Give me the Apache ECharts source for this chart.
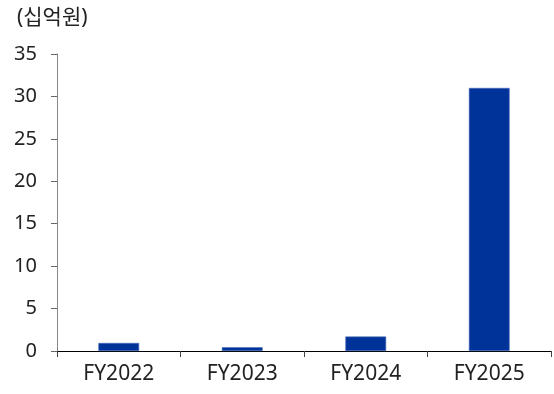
<!DOCTYPE html>
<html>
<head>
<meta charset="utf-8">
<script src="https://cdn.jsdelivr.net/npm/echarts@6/dist/echarts.min.js"></script>
<style>
  html, body { margin: 0; padding: 0; background: #fff; }
  #chart { width: 554px; height: 394px; }
</style>
</head>
<body>
<div id="chart"></div>
<script>
// Fiscal years and annual amounts (KRW, billions)
const categories = ['FY2022', 'FY2023', 'FY2024', 'FY2025'];
const values = [0.95, 0.45, 1.7, 31.0];
const unitLabel = '(십억원)';

const font = "'Noto Sans', 'Noto Sans CJK KR', sans-serif";

const chart = echarts.init(document.getElementById('chart'));
chart.setOption({
  animation: false,
  title: {
    text: unitLabel,
    left: 12,
    top: 3,
    textStyle: { fontFamily: font, fontSize: 21, fontWeight: 'normal', color: '#222' }
  },
  grid: { left: 57, right: 3, top: 54, bottom: 43, containLabel: false },
  xAxis: {
    type: 'category',
    data: categories,
    axisLine: { lineStyle: { color: '#000', width: 1 } },
    axisTick: { show: true, length: 6, alignWithLabel: false, lineStyle: { color: '#444' } },
    axisLabel: { fontFamily: font, fontSize: 21, color: '#222', margin: 13 }
  },
  yAxis: {
    type: 'value',
    min: 0,
    max: 35,
    interval: 5,
    splitLine: { show: false },
    axisLine: { show: true, lineStyle: { color: '#888', width: 1 } },
    axisTick: { show: true, length: 6, lineStyle: { color: '#666' } },
    axisLabel: { fontFamily: font, fontSize: 20, color: '#222', margin: 20 }
  },
  series: [{
    type: 'bar',
    data: values,
    barWidth: '33%',
    itemStyle: { color: '#003399', borderColor: '#4a6db8', borderWidth: 0.6 }
  }]
});
</script>
</body>
</html>
